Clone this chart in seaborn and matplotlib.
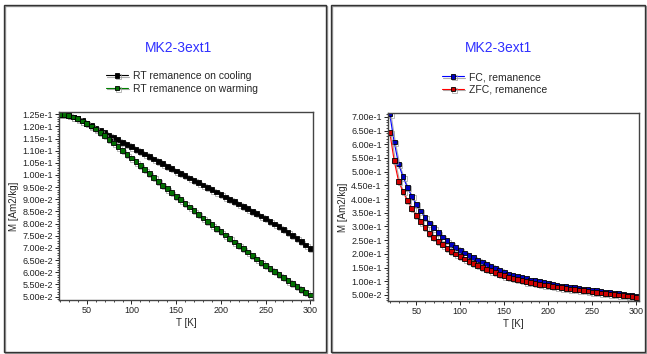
import numpy as np
import pandas as pd
import matplotlib
matplotlib.use("Agg")
import matplotlib.pyplot as plt
import matplotlib.patheffects as pe
from matplotlib.patches import Rectangle
from matplotlib.ticker import MultipleLocator, FuncFormatter
import seaborn as sns

T = list(range(20, 301, 5))

cooling = [0.1250, 0.1248, 0.1245, 0.1239, 0.1232, 0.1223, 0.1213, 0.1203, 0.1193, 0.1183,
           0.1174, 0.1164, 0.1154, 0.1145, 0.1135, 0.1126, 0.1116, 0.1106, 0.1096, 0.1086,
           0.1076, 0.1066, 0.1056, 0.1046, 0.1036, 0.1026, 0.1016, 0.1007, 0.0997, 0.0988,
           0.0978, 0.0968, 0.0959, 0.0949, 0.0939, 0.0930, 0.0920, 0.0910, 0.0900, 0.0891,
           0.0881, 0.0871, 0.0861, 0.0851, 0.0841, 0.0831, 0.0821, 0.0810, 0.0799, 0.0788,
           0.0776, 0.0764, 0.0752, 0.0739, 0.0726, 0.0712, 0.0697]
warming = [0.1250, 0.1248, 0.1244, 0.1238, 0.1231, 0.1222, 0.1212, 0.1201, 0.1189, 0.1176,
           0.1162, 0.1147, 0.1132, 0.1116, 0.1100, 0.1084, 0.1070, 0.1054, 0.1038, 0.1022,
           0.1006, 0.0990, 0.0974, 0.0958, 0.0943, 0.0928, 0.0913, 0.0898, 0.0883, 0.0868,
           0.0853, 0.0838, 0.0823, 0.0809, 0.0795, 0.0781, 0.0767, 0.0753, 0.0739, 0.0725,
           0.0711, 0.0697, 0.0683, 0.0669, 0.0655, 0.0641, 0.0628, 0.0615, 0.0603, 0.0590,
           0.0578, 0.0565, 0.0553, 0.0541, 0.0529, 0.0518, 0.0507]
fc = [0.710, 0.608, 0.528, 0.481, 0.443, 0.410, 0.381, 0.356, 0.334, 0.313,
      0.295, 0.278, 0.262, 0.248, 0.235, 0.223, 0.213, 0.203, 0.194, 0.186,
      0.178, 0.170, 0.162, 0.155, 0.148, 0.140, 0.132, 0.127, 0.122, 0.117,
      0.113, 0.109, 0.105, 0.102, 0.098, 0.095, 0.092, 0.089, 0.086, 0.083,
      0.081, 0.078, 0.076, 0.073, 0.071, 0.069, 0.067, 0.065, 0.063, 0.061,
      0.059, 0.057, 0.055, 0.052, 0.050, 0.048, 0.045]
zfc = [0.644, 0.540, 0.465, 0.427, 0.395, 0.366, 0.340, 0.317, 0.296, 0.275,
       0.260, 0.246, 0.233, 0.220, 0.209, 0.199, 0.190, 0.181, 0.173, 0.165,
       0.158, 0.151, 0.144, 0.138, 0.132, 0.126, 0.120, 0.115, 0.110, 0.106,
       0.102, 0.098, 0.095, 0.092, 0.089, 0.086, 0.084, 0.081, 0.079, 0.076,
       0.074, 0.072, 0.070, 0.068, 0.066, 0.064, 0.061, 0.059, 0.057, 0.056,
       0.054, 0.052, 0.050, 0.048, 0.046, 0.044, 0.041]

df = pd.DataFrame({"T": T, "cool": cooling, "warm": warming, "fc": fc, "zfc": zfc})

sns.set_style("white")
plt.rcParams["font.family"] = ["Liberation Sans", "DejaVu Sans"]

W, H = 647, 354
fig = plt.figure(figsize=(W / 100, H / 100), dpi=100, facecolor="white")


def px(x0, y0, x1, y1):
    # pixel box (top-left origin) -> figure fraction rect
    return [x0 / W, 1 - y1 / H, (x1 - x0) / W, (y1 - y0) / H]


# panel frames (dark line with a grey offset shadow)
for x0, x1 in [(4, 326), (331, 645)]:
    for off, col in [(1.2, "#9a9a9a"), (0, "#333333")]:
        r = Rectangle(((x0 + off) / W, (2 - off) / H), (x1 - x0) / W, 347 / H,
                      transform=fig.transFigure, fill=False, edgecolor=col, lw=1.0)
        fig.patches.append(r)

shadow = [pe.SimpleLineShadow(offset=(1, -1), shadow_color="#999999", alpha=0.8), pe.Normal()]


def sci(v, pos):
    m, e = f"{v:.2e}".split("e")
    return f"{m}e{int(e)}"


def style(ax, xlim, ylim, ymaj, ymin):
    ax.set_xlim(*xlim)
    ax.set_ylim(*ylim)
    ax.set_facecolor("white")
    ax.xaxis.set_major_locator(MultipleLocator(50))
    ax.xaxis.set_minor_locator(MultipleLocator(10))
    ax.yaxis.set_major_locator(MultipleLocator(ymaj))
    ax.yaxis.set_minor_locator(MultipleLocator(ymin))
    ax.yaxis.set_major_formatter(FuncFormatter(sci))
    ax.tick_params(which="major", direction="out", length=3, width=0.7, labelsize=6.5,
                   pad=1.5, left=True, bottom=True, colors="#222222")
    ax.tick_params(which="minor", direction="out", length=1.5, width=0.6, left=True, bottom=True)
    for s in ax.spines.values():
        s.set_color("#444444")
        s.set_linewidth(1.0)
    ax.set_xlabel("T [K]", fontsize=7, labelpad=2)
    ax.set_ylabel("M [Am2/kg]", fontsize=7, labelpad=2)


mk = dict(marker="s", markersize=3.4, linewidth=0.8, markeredgecolor="black",
          markeredgewidth=0.6, path_effects=shadow)

ax1 = fig.add_axes(px(59, 112, 313, 300))
sns.lineplot(data=df, x="T", y="cool", ax=ax1, color="black", markerfacecolor="black",
             label="RT remanence on cooling", **mk)
sns.lineplot(data=df, x="T", y="warm", ax=ax1, color="#008000", markerfacecolor="#007000",
             label="RT remanence on warming", **mk)
style(ax1, (19, 303), (0.0486, 0.1259), 0.005, 0.001)

ax2 = fig.add_axes(px(388, 113, 639, 301))
sns.lineplot(data=df, x="T", y="fc", ax=ax2, color="#0000ff", markerfacecolor="#0000c0",
             label="FC, remanence", **mk)
sns.lineplot(data=df, x="T", y="zfc", ax=ax2, color="#ff0000", markerfacecolor="#d00000",
             label="ZFC, remanence", **mk)
style(ax2, (18, 303), (0.028, 0.714), 0.05, 0.01)

for ax, lx, ly in [(ax1, 106, 71), (ax2, 442, 72)]:
    h, l = ax.get_legend_handles_labels()
    ax.legend(h, l, loc="upper left", bbox_to_anchor=(lx / W, 1 - ly / H),
              bbox_transform=fig.transFigure, frameon=False, fontsize=7.5,
              handlelength=2.1, handletextpad=0.5, labelspacing=0.25,
              borderpad=0, borderaxespad=0)

for cx in [178, 498]:
    fig.text(cx / W, 1 - 48 / H, "MK2-3ext1", ha="center", va="center",
             color="#3030ff", fontsize=10)

fig.savefig("out.png", dpi=100, facecolor="white")
